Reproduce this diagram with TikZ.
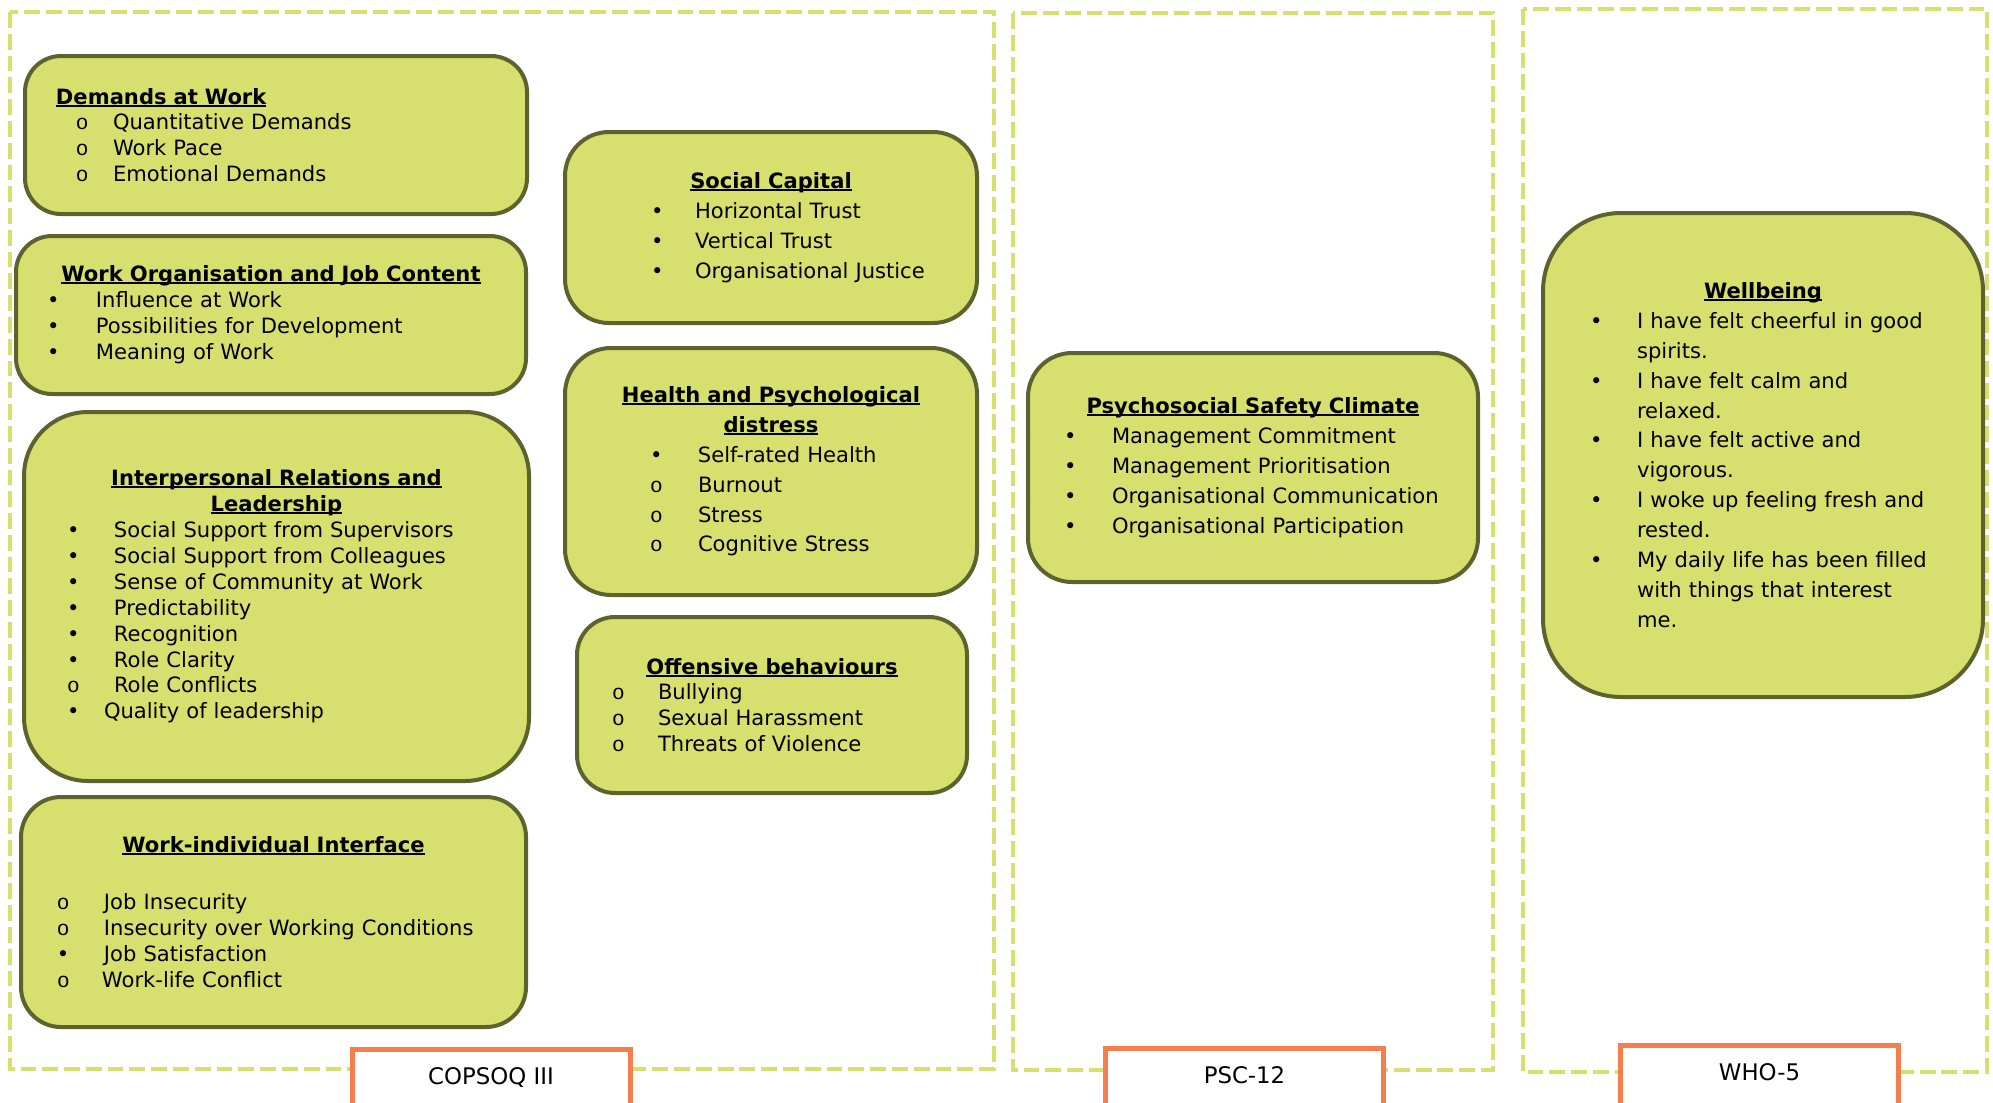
\documentclass[tikz,border=0pt]{standalone}
\usepackage{fontspec}
\setmainfont{DejaVu Sans}
\newfontfamily\monof{Liberation Mono}
\newdimen\pu \pu=0.02cm
\definecolor{boxfill}{RGB}{215,224,110}
\definecolor{boxline}{RGB}{94,98,46}
\definecolor{tagline}{RGB}{245,126,76}
\newcommand\hd[1]{\leavevmode\setbox0\hbox{\bfseries #1}\rlap{\rule[-2.5\pu]{\wd0}{2\pu}}\box0}
\newcommand\fb{\textbullet}
\newcommand\ob{{\monof o}}
\newcommand\itm[4]{\makebox[\hsize][l]{\hspace*{#1\pu}\rlap{#3}\hspace*{-#1\pu}\hspace*{#2\pu}#4}}

\begin{document}
\begin{tikzpicture}[x=0.02cm, y=-0.02cm,
  sbox/.style={draw=boxline, line width=4\pu, fill=boxfill, inner xsep=0pt, inner ysep=2pt, align=center},
  tight/.style={font=\fontsize{12}{14.74}\selectfont},
  loose/.style={font=\fontsize{12}{17}\selectfont},
  frame/.style={draw=boxfill, line width=2.8pt, dash pattern=on 9pt off 3.4pt},
  tag/.style={draw=tagline, line width=5\pu, fill=white, minimum width=278\pu, inner xsep=0pt, inner ysep=0pt,
    text height=35\pu, text depth=40\pu, anchor=north, font=\fontsize{13}{15}\selectfont}]
\useasboundingbox (0,0) rectangle (1993,1102);
\clip (0,0) rectangle (1993,1102);

\draw[frame] (10,12) rectangle (994,1069);  %COPSOQ
\draw[frame] (1013,13) rectangle (1493,1070);
\draw[frame] (1523,9) rectangle (1987,1072);

\node[sbox, tight, text width=502\pu, minimum height=158\pu, rounded corners=36\pu] (demands) at (276,135) {%
  \makebox[\hsize][l]{\hspace*{31\pu}\hd{Demands at Work}}\\
  \itm{51}{88}{\ob}{Quantitative Demands}\\
  \itm{51}{88}{\ob}{Work Pace}\\
  \itm{51}{88}{\ob}{Emotional Demands}};
\node[sbox, tight, text width=510\pu, minimum height=158\pu, rounded corners=36\pu] (workorg) at (271,315) {%
  \hd{Work Organisation and Job Content}\\
  \itm{31}{80}{\fb}{Influence at Work}\\
  \itm{31}{80}{\fb}{Possibilities for Development}\\
  \itm{31}{80}{\fb}{Meaning of Work}};
\node[sbox, tight, text width=505\pu, minimum height=369\pu, rounded corners=64\pu] (interp) at (276.5,596.5) {%
  \hd{Interpersonal Relations and}\\
  \hd{Leadership}\\
  \itm{43}{90}{\fb}{Social Support from Supervisors}\\
  \itm{43}{90}{\fb}{Social Support from Colleagues}\\
  \itm{43}{90}{\fb}{Sense of Community at Work}\\
  \itm{43}{90}{\fb}{Predictability}\\
  \itm{43}{90}{\fb}{Recognition}\\
  \itm{43}{90}{\fb}{Role Clarity}\\
  \itm{43}{90}{\ob}{Role Conflicts}\\
  \itm{43}{80}{\fb}{Quality of leadership}};
\node[sbox, tight, text width=505\pu, minimum height=230\pu, rounded corners=40\pu] (workind) at (273.5,912) {%
  \hd{Work-individual Interface}\\[31\pu]
  \itm{36}{83}{\ob}{Job Insecurity}\\
  \itm{36}{83}{\ob}{Insecurity over Working Conditions}\\
  \itm{36}{83}{\fb}{Job Satisfaction}\\
  \itm{36}{81}{\ob}{Work-life Conflict}};

\node[sbox, loose, text width=412\pu, minimum height=191\pu, rounded corners=44\pu] (social) at (771,227.5) {%
  \hd{Social Capital}\\
  \itm{86}{130}{\fb}{Horizontal Trust}\\
  \itm{86}{130}{\fb}{Vertical Trust}\\
  \itm{86}{130}{\fb}{Organisational Justice}};
\node[sbox, loose, text width=412\pu, minimum height=247\pu, rounded corners=46\pu] (health) at (771,471.5) {%
  \hd{Health and Psychological}\\
  \hd{distress}\\
  \itm{85}{133}{\fb}{Self-rated Health}\\
  \itm{85}{133}{\ob}{Burnout}\\
  \itm{85}{133}{\ob}{Stress}\\
  \itm{85}{133}{\ob}{Cognitive Stress}};
\node[sbox, tight, text width=390\pu, minimum height=176\pu, rounded corners=38\pu] (offensive) at (772,705) {%
  \hd{Offensive behaviours}\\
  \itm{35}{81}{\ob}{Bullying}\\
  \itm{35}{81}{\ob}{Sexual Harassment}\\
  \itm{35}{81}{\ob}{Threats of Violence}};

\node[sbox, loose, text width=450\pu, minimum height=229\pu, rounded corners=44\pu] (psc) at (1253,467.5) {%
  \hd{Psychosocial Safety Climate}\\
  \itm{36}{84}{\fb}{Management Commitment}\\
  \itm{36}{84}{\fb}{Management Prioritisation}\\
  \itm{36}{84}{\fb}{Organisational Communication}\\
  \itm{36}{84}{\fb}{Organisational Participation}};

\node[sbox, loose, text width=440\pu, minimum height=484\pu, rounded corners=78\pu] (wellbeing) at (1763,455) {%
  \hd{Wellbeing}\\
  \itm{47}{94}{\fb}{I have felt cheerful in good}\\
  \itm{47}{94}{}{spirits.}\\
  \itm{47}{94}{\fb}{I have felt calm and}\\
  \itm{47}{94}{}{relaxed.}\\
  \itm{47}{94}{\fb}{I have felt active and}\\
  \itm{47}{94}{}{vigorous.}\\
  \itm{47}{94}{\fb}{I woke up feeling fresh and}\\
  \itm{47}{94}{}{rested.}\\
  \itm{47}{94}{\fb}{My daily life has been filled}\\
  \itm{47}{94}{}{with things that interest}\\
  \itm{47}{94}{}{me.}};

\node[tag] (copsoq) at (491,1047) {COPSOQ III};
\node[tag] (psctag) at (1244.5,1046) {PSC-12};
\node[tag] (whotag) at (1759.5,1043) {WHO-5};
\end{tikzpicture}
\end{document}
